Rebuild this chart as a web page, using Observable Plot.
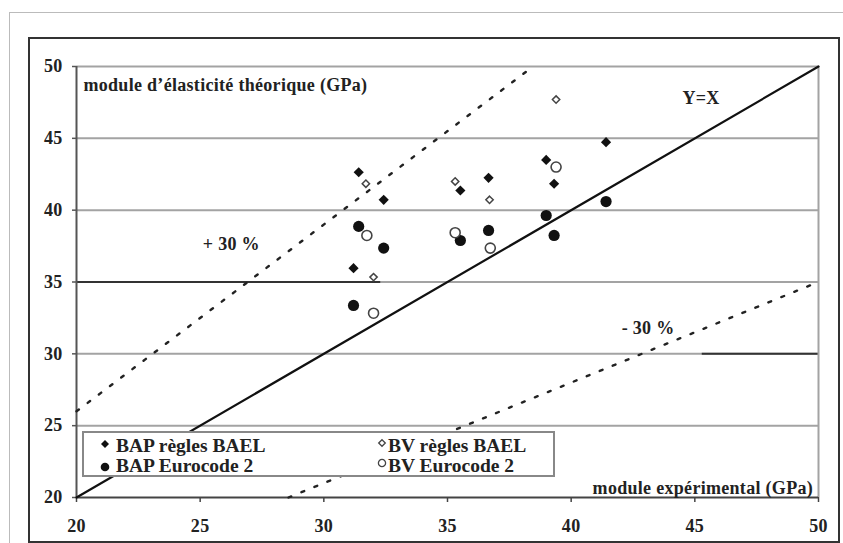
<!DOCTYPE html>
<html>
<head>
<meta charset="utf-8">
<script src="https://cdn.jsdelivr.net/npm/d3@7"></script>
<script src="https://cdn.jsdelivr.net/npm/@observablehq/plot@0.6"></script>
<style>
  html, body { margin: 0; padding: 0; background: #fff; }
  #wrap { position: relative; width: 843px; height: 543px; overflow: hidden; font-family: "Liberation Serif", serif; }
  #outer { position: absolute; left: 9px; top: 12px; right: -5px; bottom: -5px; border-left: 1.5px solid #bbb; border-top: 1.5px solid #bbb; }
  #frame { position: absolute; left: 28px; top: 37px; width: 808px; height: 502px; border: 2px solid #333; }
  #chart { position: absolute; left: 0; top: 0; }
  #legend { position: absolute; left: 82px; top: 431px; width: 469px; height: 42px; border: 2px solid #888; background: #fff; color: #222; font-weight: bold; font-size: 19.5px; line-height: 20px; letter-spacing: 0px; }
  .item { position: absolute; white-space: nowrap; display: flex; align-items: flex-start; }
  #chart text { letter-spacing: 0.3px; }
</style>
</head>
<body>
<div id="wrap">
  <div id="outer"></div>
  <div id="frame"></div>
  <div id="chart"></div>
  <div id="legend"></div>
</div>
<script>
// ---- data ----
const xTicks = [20, 25, 30, 35, 40, 45, 50];
const yTicks = [20, 25, 30, 35, 40, 45, 50];
const gridY = [25, 30, 35, 40, 45, 50];
const darkGridSegments = [
  {y: 35, x1: 20, x2: 32.3},
  {y: 30, x1: 45.3, x2: 50}
];

// reference lines (endpoints)
const lineYX = [{x: 20, y: 20}, {x: 50, y: 50}];
const linePlus30 = [{x: 20, y: 26}, {x: 38.46, y: 50}];
const lineMinus30 = [{x: 28.57, y: 20}, {x: 50, y: 35}];

// BAP règles BAEL (filled diamonds)
const bapBaelX = [31.41, 32.42, 31.2, 35.52, 36.66, 38.99, 39.31, 41.41];
const bapBaelY = [42.64, 40.72, 35.96, 41.37, 42.25, 43.5, 41.84, 44.73];
// BV règles BAEL (open diamonds)
const bvBaelX = [31.7, 35.31, 36.7, 32.01, 39.39];
const bvBaelY = [41.84, 42.0, 40.72, 35.34, 47.7];
// BAP Eurocode 2 (filled circles)
const bapEcX = [31.41, 32.42, 31.2, 35.52, 36.66, 38.99, 39.31, 41.41];
const bapEcY = [38.87, 37.36, 33.37, 37.89, 38.59, 39.63, 38.24, 40.6];
// BV Eurocode 2 (open circles)
const bvEcX = [31.74, 35.31, 36.73, 39.39, 32.01];
const bvEcY = [38.24, 38.43, 37.36, 43.0, 32.83];

// annotations
const annotLabels = ["module d\u2019élasticité théorique (GPa)", "Y=X", "+ 30 %", "- 30 %", "module expérimental (GPa)"];
const annotX = [20.28, 45.25, 26.26, 43.11, 49.78];
const annotY = [48.68, 47.77, 37.61, 31.77, 20.63];
const annotAnchor = ["start", "middle", "middle", "middle", "end"];

const legendLabels = ["BAP règles BAEL", "BV règles BAEL", "BAP Eurocode 2", "BV Eurocode 2"];

// ---- build ----
const pts = (xs, ys) => xs.map((x, i) => ({x, y: ys[i]}));
const annots = annotLabels.map((t, i) => ({t, x: annotX[i], y: annotY[i], a: annotAnchor[i]}));

const textStyle = {fontSize: 18, fontWeight: "bold", fill: "#222"};

const chart = Plot.plot({
  width: 843,
  height: 543,
  marginLeft: 76,
  marginRight: 25,
  marginTop: 66,
  marginBottom: 46,
  x: {domain: [20, 50]},
  y: {domain: [20, 50]},
  style: {fontFamily: "Liberation Serif, serif", background: "transparent", color: "#222", overflow: "visible"},
  marks: [
    Plot.ruleY(gridY, {stroke: "#a3a3a3", strokeWidth: 2}),
    Plot.ruleY(darkGridSegments, {y: "y", x1: "x1", x2: "x2", stroke: "#333", strokeWidth: 2}),
    Plot.ruleX([50], {stroke: "#a3a3a3", strokeWidth: 2}),
    Plot.ruleX([20], {stroke: "#555", strokeWidth: 2}),
    Plot.ruleY([20], {stroke: "#444", strokeWidth: 2}),
    Plot.axisY({ticks: yTicks, tickSize: 4, tickPadding: 10, label: null, fontSize: 18, fontWeight: "bold", stroke: "#555", strokeWidth: 1.5}),
    Plot.axisX({ticks: xTicks, tickSize: 5, tickPadding: 17, label: null, fontSize: 18, fontWeight: "bold", stroke: "#444", strokeWidth: 1.5}),
    Plot.line(lineYX, {x: "x", y: "y", stroke: "#111", strokeWidth: 2.2}),
    Plot.line(linePlus30, {x: "x", y: "y", stroke: "#222", strokeWidth: 2.4, strokeDasharray: "3,11"}),
    Plot.line(lineMinus30, {x: "x", y: "y", stroke: "#222", strokeWidth: 2.4, strokeDasharray: "3,11"}),
    Plot.dot(pts(bapBaelX, bapBaelY), {x: "x", y: "y", symbol: "diamond2", r: 4.6, fill: "#111", stroke: "none"}),
    Plot.dot(pts(bvBaelX, bvBaelY), {x: "x", y: "y", symbol: "diamond2", r: 3.3, fill: "#fff", stroke: "#444", strokeWidth: 1.5}),
    Plot.dot(pts(bapEcX, bapEcY), {x: "x", y: "y", r: 5.6, fill: "#111", stroke: "none"}),
    Plot.dot(pts(bvEcX, bvEcY), {x: "x", y: "y", r: 5, fill: "#fff", stroke: "#444", strokeWidth: 1.6}),
    Plot.text(annots.filter(d => d.a === "start"), {x: "x", y: "y", text: "t", textAnchor: "start", ...textStyle}),
    Plot.text(annots.filter(d => d.a === "middle"), {x: "x", y: "y", text: "t", textAnchor: "middle", ...textStyle}),
    Plot.text(annots.filter(d => d.a === "end"), {x: "x", y: "y", text: "t", textAnchor: "end", ...textStyle})
  ]
});
document.getElementById("chart").appendChild(chart);

// ---- legend ----
const markerSvg = [
  '<svg width="10" height="10" viewBox="-5 -5 10 10"><path d="M0,-4L4,0L0,4L-4,0Z" fill="#111"/></svg>',
  '<svg width="10" height="10" viewBox="-5 -5 10 10"><path d="M0,-3.3L3.3,0L0,3.3L-3.3,0Z" fill="#fff" stroke="#444" stroke-width="1.3"/></svg>',
  '<svg width="10" height="10" viewBox="-5 -5 10 10"><circle r="4.3" fill="#111"/></svg>',
  '<svg width="10" height="10" viewBox="-5 -5 10 10"><circle r="3.6" fill="#fff" stroke="#444" stroke-width="1.3"/></svg>'
];
const legendPos = [[16, 3], [293, 3], [16, 23], [293, 23]];
const markerTop = [2.5, 1.5, 5.5, 2];
const markerGap = [6, 1, 6, 1];
const legend = document.getElementById("legend");
legendLabels.forEach((lab, i) => {
  const div = document.createElement("div");
  div.className = "item";
  div.style.left = legendPos[i][0] + "px";
  div.style.top = legendPos[i][1] + "px";
  div.innerHTML = markerSvg[i] + "<span>" + lab + "</span>";
  const svg = div.querySelector("svg");
  svg.style.marginTop = markerTop[i] + "px";
  svg.style.marginRight = markerGap[i] + "px";
  legend.appendChild(div);
});
</script>
</body>
</html>
